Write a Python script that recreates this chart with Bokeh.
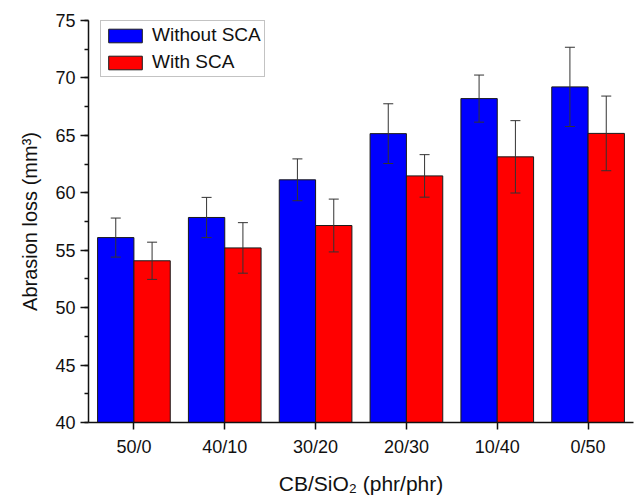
from bokeh.plotting import figure
from bokeh.models import (ColumnDataSource, FactorRange, Range1d, Whisker,
                          SingleIntervalTicker, Legend, LegendItem)
from bokeh.transform import dodge
from bokeh.embed import file_html
from bokeh.resources import INLINE

# CB/SiO2 filler ratio (phr/phr)
ratios = ["50/0", "40/10", "30/20", "20/30", "10/40", "0/50"]

# Abrasion loss (mm^3) and standard deviations
without_sca = [56.1, 57.85, 61.13, 65.15, 68.2, 69.22]
without_sca_err = [1.7, 1.75, 1.82, 2.6, 2.05, 3.45]
with_sca = [54.08, 55.2, 57.15, 61.47, 63.13, 65.17]
with_sca_err = [1.62, 2.2, 2.3, 1.85, 3.15, 3.25]

FONT = "Liberation Sans"

src = ColumnDataSource(data=dict(
    ratio=ratios,
    wo=without_sca,
    wo_lo=[v - e for v, e in zip(without_sca, without_sca_err)],
    wo_hi=[v + e for v, e in zip(without_sca, without_sca_err)],
    w=with_sca,
    w_lo=[v - e for v, e in zip(with_sca, with_sca_err)],
    w_hi=[v + e for v, e in zip(with_sca, with_sca_err)],
))

p = figure(width=636, height=497, output_backend="svg", toolbar_location=None,
           x_range=FactorRange(factors=ratios, range_padding=0),
           y_range=Range1d(40, 75),
           min_border_left=88, min_border_right=3,
           min_border_top=20, min_border_bottom=71)
p.outline_line_color = None
p.xgrid.grid_line_color = None
p.ygrid.grid_line_color = None
p.background_fill_color = "#ffffff"
p.border_fill_color = "#ffffff"

bar_kw = dict(source=src, width=0.4, bottom=40, line_color="#1a1a1a", line_width=1)
r_wo = p.vbar(x=dodge("ratio", -0.2, range=p.x_range), top="wo",
              fill_color="#0000ff", **bar_kw)
r_w = p.vbar(x=dodge("ratio", 0.2, range=p.x_range), top="w",
             fill_color="#ff0000", **bar_kw)

# error bars drawn over the bars
for off, lo, hi in [(-0.2, "wo_lo", "wo_hi"), (0.2, "w_lo", "w_hi")]:
    wk = Whisker(source=src, base=dodge("ratio", off, range=p.x_range),
                 lower=lo, upper=hi, line_color="#333333", line_width=1,
                 level="overlay")
    wk.upper_head.size = 10
    wk.lower_head.size = 10
    wk.upper_head.line_color = "#333333"
    wk.lower_head.line_color = "#333333"
    p.add_layout(wk)

# axes
p.yaxis.ticker = SingleIntervalTicker(interval=5, num_minor_ticks=2)
for ax in (p.xaxis[0], p.yaxis[0]):
    ax.axis_line_color = "#111111"
    ax.axis_line_width = 1.5
    ax.major_tick_line_color = "#111111"
    ax.major_tick_line_width = 1.5
    ax.major_tick_in = 0
    ax.major_label_text_font = FONT
    ax.major_label_text_font_size = "18px"
    ax.major_label_text_color = "#111111"
    ax.axis_label_text_font = FONT
    ax.axis_label_text_font_style = "normal"
    ax.axis_label_text_color = "#111111"
p.yaxis.major_tick_out = 8
p.yaxis.minor_tick_out = 4
p.yaxis.minor_tick_in = 0
p.yaxis.minor_tick_line_color = "#111111"
p.yaxis.minor_tick_line_width = 1.5
p.yaxis.major_label_standoff = 5
p.yaxis.axis_label = "Abrasion loss (mm³)"
p.yaxis.axis_label_text_font_size = "20px"
p.yaxis.axis_label_standoff = 11
p.xaxis.major_tick_out = 7
p.xaxis.major_label_standoff = 7
p.xaxis.axis_label = "CB/SiO₂ (phr/phr)"
p.xaxis.axis_label_text_font_size = "21px"
p.xaxis.axis_label_standoff = 12

legend = Legend(items=[LegendItem(label="Without SCA", renderers=[r_wo]),
                       LegendItem(label="With SCA", renderers=[r_w])],
                location=(12, 345), margin=0, padding=3, spacing=5,
                glyph_width=42, glyph_height=17, label_height=18,
                label_standoff=6,
                label_text_font=FONT, label_text_font_size="19px",
                label_text_color="#111111",
                border_line_color="#888888", border_line_width=1.2,
                background_fill_alpha=1)
p.add_layout(legend, "center")

open("out.html", "w").write(file_html(p, INLINE))
